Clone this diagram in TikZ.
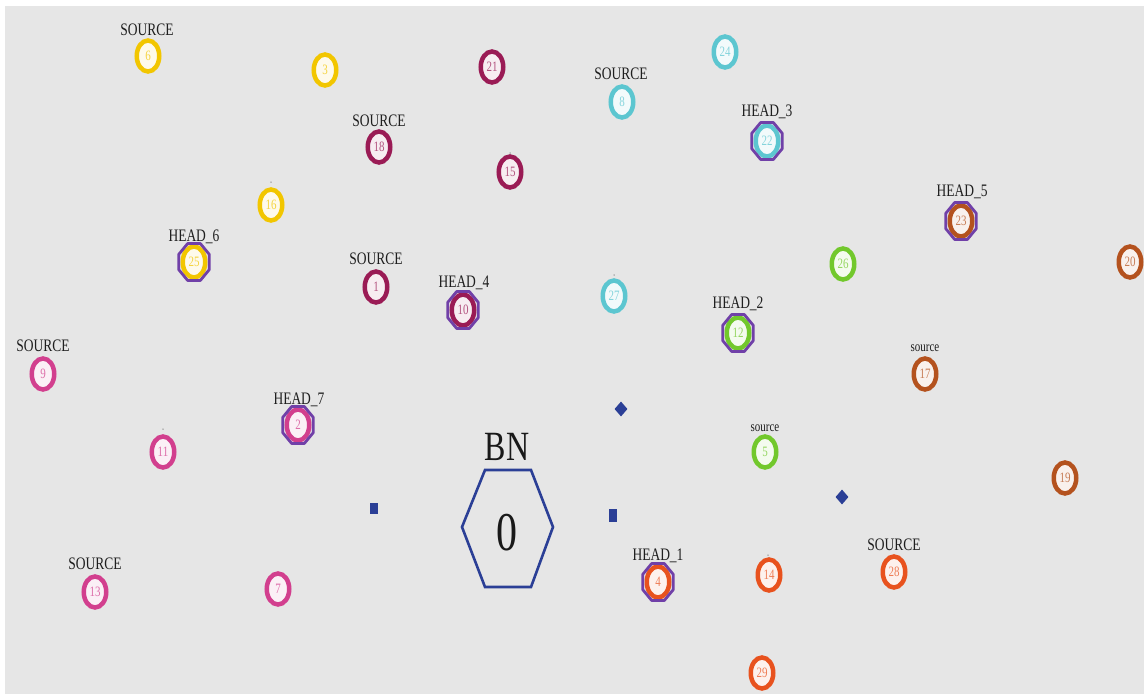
\documentclass[tikz,border=0pt]{standalone}
\usepackage{fontspec}
\setmainfont{Liberation Serif}
\usepackage{graphicx}
\usetikzlibrary{shapes.geometric}
\definecolor{bggray}{HTML}{E6E6E6}
\definecolor{cyel}{HTML}{F2C600}
\definecolor{cmar}{HTML}{9A1B55}
\definecolor{ccya}{HTML}{5CC6D0}
\definecolor{cgrn}{HTML}{72C82C}
\definecolor{cbrn}{HTML}{B4521E}
\definecolor{cpnk}{HTML}{D23F8E}
\definecolor{corg}{HTML}{E8521E}
\definecolor{hpur}{HTML}{7040A8}
\definecolor{bnblue}{HTML}{2B3F96}
\newcommand{\vs}[1]{\scalebox{1}[1.3]{#1}}
\tikzset{
  nd/.style={ellipse, draw=#1, line width=4.5pt, fill=#1!8!white, text=#1!75!white,
    minimum width=22.5pt, minimum height=31pt, inner sep=0pt,
    font=\fontsize{11}{11}\selectfont},
  lab/.style={text=black!88, inner sep=0pt, font=\fontsize{13.5}{14}\selectfont},
  slab/.style={text=black!88, inner sep=0pt, font=\fontsize{11}{12}\selectfont},
  hoct/.style={draw=hpur, line width=2.8pt, line join=round},
  tick/.style={circle, fill=black!45, inner sep=0pt, minimum size=1.5pt},
  sq/.style={rectangle, fill=bnblue, inner sep=0pt, minimum width=8pt, minimum height=11pt},
  dia/.style={diamond, fill=bnblue, inner sep=0pt, minimum width=13pt, minimum height=15pt},
  bnline/.style={draw=bnblue, line width=2.6pt, line join=miter},
}
\newcommand{\headoct}[1]{\draw[hoct, shift={(#1.center)}] (22.5:16.5 and 20) -- (67.5:16.5 and 20) -- (112.5:16.5 and 20) -- (157.5:16.5 and 20) -- (202.5:16.5 and 20) -- (247.5:16.5 and 20) -- (292.5:16.5 and 20) -- (337.5:16.5 and 20) -- cycle;}
\begin{document}
\begin{tikzpicture}[x=1pt, y=-1pt]
\useasboundingbox (0,0) rectangle (1144,694);
\fill[white] (0,0) rectangle (1144,694);
\fill[bggray] (5,6) rectangle (1144,694);

% BN
\node[inner sep=0pt, font=\fontsize{32}{32}\selectfont, text=black!90] (bnlab) at (507,447) {\vs{BN}};
\node[inner sep=0pt, font=\fontsize{42}{42}\selectfont, text=black!90] (bn) at (507,533) {\vs{0}};
\draw[bnline, shift={(507,528)}] (-22,-58) -- (24,-58) -- (46,-1) -- (24,59) -- (-22,59) -- (-45,-1) -- cycle;

% small markers
\node[sq] (s1) at (374,508) {};
\node[sq, minimum height=13pt] (s2) at (613,515) {};
\node[dia] (d1) at (621,409) {};
\node[dia] (d2) at (842,497) {};

% yellow group
\node[nd=cyel] (n6) at (148,56) {\vs{6}};
\node[lab] (l6) at (147,30) {\vs{SOURCE}};
\node[nd=cyel] (n3) at (325,70) {\vs{3}};
\node[nd=cyel] (n16) at (271,205) {\vs{16}};
\node[tick] (t16) at (271,182) {};
\node[nd=cyel] (n25) at (194,262) {\vs{25}};
\headoct{n25}
\node[lab] (l25) at (194,237) {\vs{HEAD\_6}};

% maroon group
\node[nd=cmar] (n21) at (492,67) {\vs{21}};
\node[nd=cmar] (n18) at (379,147) {\vs{18}};
\node[lab] (l18) at (379,121) {\vs{SOURCE}};
\node[nd=cmar] (n15) at (510,172) {\vs{15}};
\node[tick] (t15) at (510,153) {};
\node[nd=cmar] (n1) at (376,287) {\vs{1}};
\node[lab] (l1) at (376,259) {\vs{SOURCE}};
\node[nd=cmar] (n10) at (463,310) {\vs{10}};
\headoct{n10}
\node[lab] (l10) at (464,283) {\vs{HEAD\_4}};

% cyan group
\node[nd=ccya] (n24) at (725,52) {\vs{24}};
\node[nd=ccya] (n8) at (622,102) {\vs{8}};
\node[lab] (l8) at (621,74) {\vs{SOURCE}};
\node[nd=ccya] (n22) at (767,141) {\vs{22}};
\headoct{n22}
\node[lab] (l22) at (767,112) {\vs{HEAD\_3}};
\node[nd=ccya] (n27) at (614,296) {\vs{27}};
\node[tick] (t27) at (614,275) {};

% green group
\node[nd=cgrn] (n26) at (843,264) {\vs{26}};
\node[nd=cgrn] (n12) at (738,333) {\vs{12}};
\headoct{n12}
\node[lab] (l12) at (738,304) {\vs{HEAD\_2}};
\node[nd=cgrn] (n5) at (765,452) {\vs{5}};
\node[slab] (l5) at (765,428) {\vs{source}};

% brown group
\node[nd=cbrn] (n23) at (961,221) {\vs{23}};
\headoct{n23}
\node[lab] (l23) at (962,192) {\vs{HEAD\_5}};
\node[nd=cbrn] (n20) at (1130,262) {\vs{20}};
\node[nd=cbrn] (n17) at (925,374) {\vs{17}};
\node[slab] (l17) at (925,348) {\vs{source}};
\node[nd=cbrn] (n19) at (1065,478) {\vs{19}};

% pink group
\node[nd=cpnk] (n9) at (43,374) {\vs{9}};
\node[lab] (l9) at (43,346) {\vs{SOURCE}};
\node[nd=cpnk] (n2) at (298,425) {\vs{2}};
\headoct{n2}
\node[lab] (l2) at (299,400) {\vs{HEAD\_7}};
\node[nd=cpnk] (n11) at (163,452) {\vs{11}};
\node[tick] (t11) at (163,429) {};
\node[nd=cpnk] (n13) at (95,592) {\vs{13}};
\node[lab] (l13) at (95,564) {\vs{SOURCE}};
\node[nd=cpnk] (n7) at (278,589) {\vs{7}};

% orange group
\node[nd=corg] (n4) at (658,582) {\vs{4}};
\headoct{n4}
\node[lab] (l4) at (658,556) {\vs{HEAD\_1}};
\node[nd=corg] (n14) at (769,575) {\vs{14}};
\node[tick] (t14) at (768,555) {};
\node[nd=corg] (n29) at (762,673) {\vs{29}};
\node[nd=corg] (n28) at (894,572) {\vs{28}};
\node[lab] (l28) at (894,545) {\vs{SOURCE}};
\end{tikzpicture}
\end{document}
